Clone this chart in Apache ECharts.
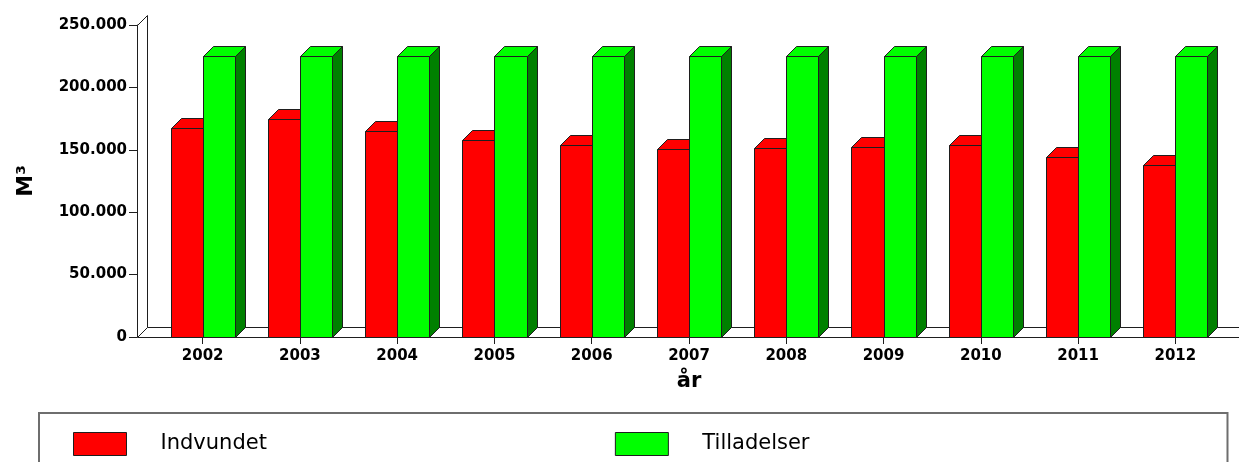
<!DOCTYPE html>
<html>
<head>
<meta charset="utf-8">
<title>Indvundet og tilladelser</title>
<script src="https://cdn.jsdelivr.net/npm/echarts@6/dist/echarts.min.js"></script>
<style>
  html, body { margin: 0; padding: 0; background: #fff; }
  #chart { width: 1239px; height: 462px; }
</style>
</head>
<body>
<div id="chart"></div>
<script>
// Years on the category axis
const years = ['2002', '2003', '2004', '2005', '2006', '2007', '2008', '2009', '2010', '2011', '2012'];
// Extracted volume per year (m³)
const indvundet = [167400, 174600, 165300, 157800, 153600, 150400, 151400, 152500, 153600, 144000, 137600];
// Permitted volume per year (m³)
const tilladelser = [225000, 225000, 225000, 225000, 225000, 225000, 225000, 225000, 225000, 225000, 225000];
// Value axis ticks
const yTicks = { min: 0, max: 250000, interval: 50000 };
const seriesNames = ['Indvundet', 'Tilladelser'];

const FONT = 'DejaVu Sans';
const LINE = '#1e1e1e';
const DEPTH = 10;          // 3D depth offset in px
const BAR_FRACTION = 0.33; // bar width as part of a category band
const AXIS_OFFSET = 17;    // value axis sits this far left of the bar area

const snap = v => Math.round(v) + 0.5;
const thousands = v => String(v).replace(/\B(?=(\d{3})+(?!\d))/g, '.');

// Draws one 3D column: side face, top face and front face
function bar3d(leftOfCenter, front, side) {
  return function (params, api) {
    const cat = api.value(0);
    const top = api.coord([cat, api.value(1)]);
    const base = api.coord([cat, 0]);
    const w = api.size([1, 0])[0] * BAR_FRACTION;
    const x0 = snap(leftOfCenter ? top[0] - w : top[0]);
    const x1 = snap(leftOfCenter ? top[0] : top[0] + w);
    const yt = snap(top[1]);
    const yb = snap(base[1]);
    const d = DEPTH;
    const stroke = { stroke: LINE, lineWidth: 1, lineJoin: 'miter' };
    return {
      type: 'group',
      children: [
        { type: 'polygon', shape: { points: [[x1, yt], [x1 + d, yt - d], [x1 + d, yb - d], [x1, yb]] },
          style: Object.assign({ fill: side }, stroke) },
        { type: 'polygon', shape: { points: [[x0, yt], [x0 + d, yt - d], [x1 + d, yt - d], [x1, yt]] },
          style: Object.assign({ fill: front }, stroke) },
        { type: 'rect', shape: { x: x0, y: yt, width: x1 - x0, height: yb - yt },
          style: Object.assign({ fill: front }, stroke) }
      ]
    };
  };
}

// Left wall and floor of the 3D plot box
function frame(params, api) {
  const cs = params.coordSys;
  const ax = snap(cs.x - AXIS_OFFSET);
  const yTop = snap(cs.y);
  const yBot = snap(cs.y + cs.height);
  const right = api.getWidth();
  const d = DEPTH;
  const st = { stroke: LINE, lineWidth: 1, fill: null };
  return {
    type: 'group',
    children: [
      { type: 'polygon', shape: { points: [[ax, yBot], [ax + d, yBot - d], [right, yBot - d], [right, yBot]] },
        style: { fill: '#fff' } },
      { type: 'polyline', shape: { points: [[ax, yTop], [ax + d, yTop - d], [ax + d, yBot - d]] }, style: st },
      { type: 'polyline', shape: { points: [[ax, yBot], [ax + d, yBot - d], [right, yBot - d]] }, style: st },
      { type: 'line', shape: { x1: ax, y1: yBot, x2: right, y2: yBot }, style: st }
    ]
  };
}

const chart = echarts.init(document.getElementById('chart'), null, { renderer: 'canvas' });

chart.setOption({
  animation: false,
  backgroundColor: '#fff',
  grid: { left: 154, width: 1070, top: 25, bottom: 125, containLabel: false },
  xAxis: {
    type: 'category',
    data: years,
    boundaryGap: true,
    name: 'år',
    nameLocation: 'middle',
    nameGap: 34,
    nameTextStyle: { fontFamily: FONT, fontWeight: 'bold', fontSize: 21, color: '#000' },
    axisLine: { show: false },
    axisTick: { show: true, alignWithLabel: true, length: 7, lineStyle: { color: LINE } },
    axisLabel: { margin: 12, fontFamily: FONT, fontWeight: 'bold', fontSize: 15, color: '#000' },
    splitLine: { show: false }
  },
  yAxis: {
    type: 'value',
    min: yTicks.min,
    max: yTicks.max,
    interval: yTicks.interval,
    offset: AXIS_OFFSET,
    name: 'M³',
    nameLocation: 'middle',
    nameGap: 100,
    nameTextStyle: { fontFamily: FONT, fontWeight: 'bold', fontSize: 22, color: '#000' },
    axisLine: { show: true, lineStyle: { color: LINE } },
    axisTick: { show: true, length: 8, lineStyle: { color: LINE } },
    axisLabel: { margin: 10, fontFamily: FONT, fontWeight: 'bold', fontSize: 15, color: '#000',
                 formatter: thousands },
    splitLine: { show: false }
  },
  legend: {
    left: 39,
    top: 413,
    orient: 'horizontal',
    padding: [19, 418, 40, 34],
    itemWidth: 53,
    itemHeight: 23,
    itemGap: 348,
    borderColor: '#6e6e6e',
    borderWidth: 2,
    borderRadius: 0,
    selectedMode: false,
    textStyle: { fontFamily: FONT, fontSize: 21, color: '#000', padding: [0, 0, 0, 29] },
    data: [
      { name: seriesNames[0], icon: 'rect', itemStyle: { color: '#ff0000', borderColor: LINE, borderWidth: 1 } },
      { name: seriesNames[1], icon: 'rect', itemStyle: { color: '#00ff00', borderColor: LINE, borderWidth: 1 } }
    ]
  },
  series: [
    {
      type: 'custom',
      name: 'frame',
      renderItem: frame,
      data: [[0, 0]],
      encode: { x: 0, y: 1 },
      silent: true,
      z: 1
    },
    {
      type: 'custom',
      name: seriesNames[0],
      renderItem: bar3d(true, '#ff0000', '#990000'),
      itemStyle: { color: '#ff0000' },
      data: indvundet.map((v, i) => [i, v]),
      encode: { x: 0, y: 1 },
      z: 3
    },
    {
      type: 'custom',
      name: seriesNames[1],
      renderItem: bar3d(false, '#00ff00', '#008000'),
      itemStyle: { color: '#00ff00' },
      data: tilladelser.map((v, i) => [i, v]),
      encode: { x: 0, y: 1 },
      z: 4
    }
  ]
});
</script>
</body>
</html>
